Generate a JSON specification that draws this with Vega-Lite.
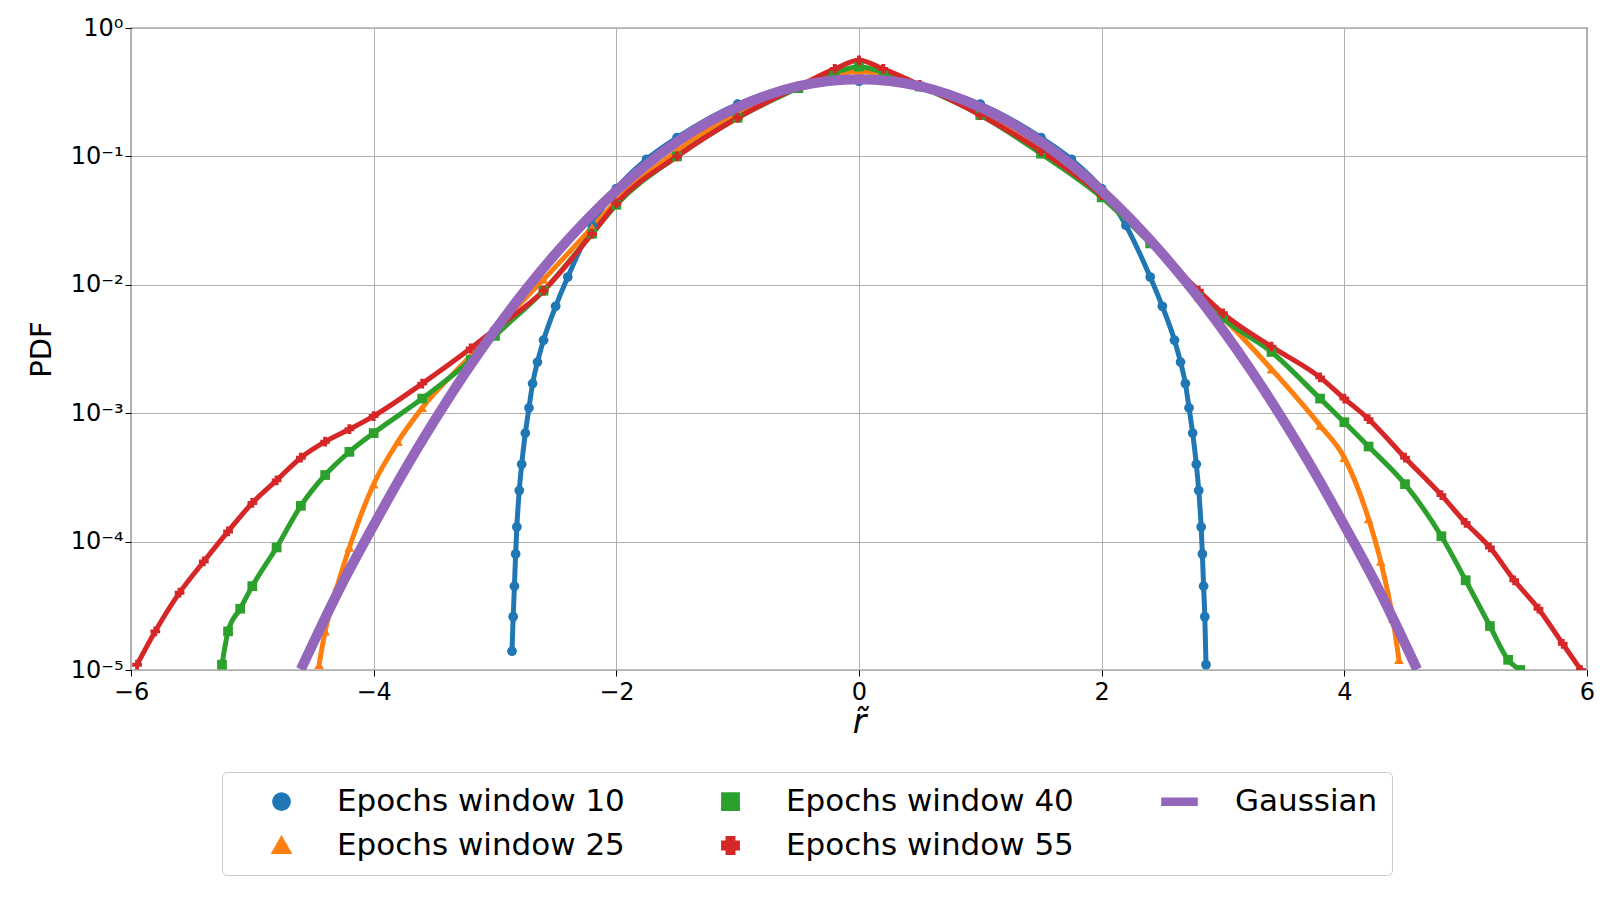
{
  "$schema": "https://vega.github.io/schema/vega-lite/v6.json",
  "autosize": "none",
  "width": 1456,
  "height": 642,
  "padding": {"left": 131, "top": 28, "right": 13, "bottom": 230},
  "background": "white",
  "config": {
    "font": "DejaVu Sans",
    "view": {"stroke": "black", "strokeWidth": 1.2},
    "axis": {"labelFontSize": 24, "titleFontSize": 29, "titleFontWeight": "normal", "labelColor": "black", "titleColor": "black", "gridColor": "#b0b0b0", "tickColor": "black", "domain": false, "tickSize": 6, "labelFlush": false}
  },
  "datasets": {
    "pts": [
      {"s": "Epochs window 10", "x": -2.86, "y": 0.000014},
      {"s": "Epochs window 10", "x": -2.85, "y": 0.000026},
      {"s": "Epochs window 10", "x": -2.84, "y": 0.000045},
      {"s": "Epochs window 10", "x": -2.83, "y": 0.00008},
      {"s": "Epochs window 10", "x": -2.82, "y": 0.00013},
      {"s": "Epochs window 10", "x": -2.8, "y": 0.00025},
      {"s": "Epochs window 10", "x": -2.78, "y": 0.0004},
      {"s": "Epochs window 10", "x": -2.75, "y": 0.0007},
      {"s": "Epochs window 10", "x": -2.72, "y": 0.0011},
      {"s": "Epochs window 10", "x": -2.69, "y": 0.0017},
      {"s": "Epochs window 10", "x": -2.65, "y": 0.0025},
      {"s": "Epochs window 10", "x": -2.6, "y": 0.0037},
      {"s": "Epochs window 10", "x": -2.5, "y": 0.0068},
      {"s": "Epochs window 10", "x": -2.4, "y": 0.0115},
      {"s": "Epochs window 10", "x": -2.2, "y": 0.029},
      {"s": "Epochs window 10", "x": -2.0, "y": 0.056},
      {"s": "Epochs window 10", "x": -1.75, "y": 0.095},
      {"s": "Epochs window 10", "x": -1.5, "y": 0.14},
      {"s": "Epochs window 10", "x": -1.0, "y": 0.255},
      {"s": "Epochs window 10", "x": -0.5, "y": 0.35},
      {"s": "Epochs window 10", "x": 0.0, "y": 0.385},
      {"s": "Epochs window 10", "x": 0.5, "y": 0.35},
      {"s": "Epochs window 10", "x": 1.0, "y": 0.255},
      {"s": "Epochs window 10", "x": 1.5, "y": 0.14},
      {"s": "Epochs window 10", "x": 1.75, "y": 0.095},
      {"s": "Epochs window 10", "x": 2.0, "y": 0.056},
      {"s": "Epochs window 10", "x": 2.2, "y": 0.029},
      {"s": "Epochs window 10", "x": 2.4, "y": 0.0115},
      {"s": "Epochs window 10", "x": 2.5, "y": 0.0068},
      {"s": "Epochs window 10", "x": 2.6, "y": 0.0037},
      {"s": "Epochs window 10", "x": 2.65, "y": 0.0025},
      {"s": "Epochs window 10", "x": 2.69, "y": 0.0017},
      {"s": "Epochs window 10", "x": 2.72, "y": 0.0011},
      {"s": "Epochs window 10", "x": 2.75, "y": 0.0007},
      {"s": "Epochs window 10", "x": 2.78, "y": 0.0004},
      {"s": "Epochs window 10", "x": 2.8, "y": 0.00025},
      {"s": "Epochs window 10", "x": 2.82, "y": 0.00013},
      {"s": "Epochs window 10", "x": 2.83, "y": 0.00008},
      {"s": "Epochs window 10", "x": 2.84, "y": 0.000045},
      {"s": "Epochs window 10", "x": 2.85, "y": 0.000026},
      {"s": "Epochs window 10", "x": 2.86, "y": 0.000011},

      {"s": "Epochs window 25", "x": -4.45, "y": 0.000011},
      {"s": "Epochs window 25", "x": -4.4, "y": 0.00002},
      {"s": "Epochs window 25", "x": -4.3, "y": 0.000045},
      {"s": "Epochs window 25", "x": -4.2, "y": 0.00009},
      {"s": "Epochs window 25", "x": -4.0, "y": 0.00028},
      {"s": "Epochs window 25", "x": -3.8, "y": 0.0006},
      {"s": "Epochs window 25", "x": -3.6, "y": 0.0011},
      {"s": "Epochs window 25", "x": -3.2, "y": 0.0028},
      {"s": "Epochs window 25", "x": -3.0, "y": 0.0045},
      {"s": "Epochs window 25", "x": -2.6, "y": 0.011},
      {"s": "Epochs window 25", "x": -2.2, "y": 0.028},
      {"s": "Epochs window 25", "x": -2.0, "y": 0.045},
      {"s": "Epochs window 25", "x": -1.5, "y": 0.11},
      {"s": "Epochs window 25", "x": -1.0, "y": 0.22},
      {"s": "Epochs window 25", "x": -0.5, "y": 0.36},
      {"s": "Epochs window 25", "x": -0.2, "y": 0.43},
      {"s": "Epochs window 25", "x": 0.0, "y": 0.46},
      {"s": "Epochs window 25", "x": 0.2, "y": 0.43},
      {"s": "Epochs window 25", "x": 0.5, "y": 0.36},
      {"s": "Epochs window 25", "x": 1.0, "y": 0.22},
      {"s": "Epochs window 25", "x": 1.5, "y": 0.115},
      {"s": "Epochs window 25", "x": 2.0, "y": 0.05},
      {"s": "Epochs window 25", "x": 2.4, "y": 0.022},
      {"s": "Epochs window 25", "x": 2.8, "y": 0.008},
      {"s": "Epochs window 25", "x": 3.0, "y": 0.0055},
      {"s": "Epochs window 25", "x": 3.4, "y": 0.0022},
      {"s": "Epochs window 25", "x": 3.8, "y": 0.0008},
      {"s": "Epochs window 25", "x": 4.0, "y": 0.00045},
      {"s": "Epochs window 25", "x": 4.2, "y": 0.00015},
      {"s": "Epochs window 25", "x": 4.3, "y": 0.00007},
      {"s": "Epochs window 25", "x": 4.4, "y": 0.000025},
      {"s": "Epochs window 25", "x": 4.45, "y": 0.000012},

      {"s": "Epochs window 40", "x": -5.25, "y": 0.000011},
      {"s": "Epochs window 40", "x": -5.2, "y": 0.00002},
      {"s": "Epochs window 40", "x": -5.1, "y": 0.00003},
      {"s": "Epochs window 40", "x": -5.0, "y": 0.000045},
      {"s": "Epochs window 40", "x": -4.8, "y": 0.00009},
      {"s": "Epochs window 40", "x": -4.6, "y": 0.00019},
      {"s": "Epochs window 40", "x": -4.4, "y": 0.00033},
      {"s": "Epochs window 40", "x": -4.2, "y": 0.0005},
      {"s": "Epochs window 40", "x": -4.0, "y": 0.0007},
      {"s": "Epochs window 40", "x": -3.6, "y": 0.0013},
      {"s": "Epochs window 40", "x": -3.2, "y": 0.0026},
      {"s": "Epochs window 40", "x": -3.0, "y": 0.004},
      {"s": "Epochs window 40", "x": -2.6, "y": 0.009},
      {"s": "Epochs window 40", "x": -2.2, "y": 0.025},
      {"s": "Epochs window 40", "x": -2.0, "y": 0.042},
      {"s": "Epochs window 40", "x": -1.5, "y": 0.1},
      {"s": "Epochs window 40", "x": -1.0, "y": 0.2},
      {"s": "Epochs window 40", "x": -0.5, "y": 0.34},
      {"s": "Epochs window 40", "x": -0.2, "y": 0.45},
      {"s": "Epochs window 40", "x": 0.0, "y": 0.5},
      {"s": "Epochs window 40", "x": 0.2, "y": 0.45},
      {"s": "Epochs window 40", "x": 0.5, "y": 0.35},
      {"s": "Epochs window 40", "x": 1.0, "y": 0.21},
      {"s": "Epochs window 40", "x": 1.5, "y": 0.105},
      {"s": "Epochs window 40", "x": 2.0, "y": 0.048},
      {"s": "Epochs window 40", "x": 2.4, "y": 0.021},
      {"s": "Epochs window 40", "x": 2.8, "y": 0.0085},
      {"s": "Epochs window 40", "x": 3.0, "y": 0.0055},
      {"s": "Epochs window 40", "x": 3.4, "y": 0.003},
      {"s": "Epochs window 40", "x": 3.8, "y": 0.0013},
      {"s": "Epochs window 40", "x": 4.0, "y": 0.00085},
      {"s": "Epochs window 40", "x": 4.2, "y": 0.00055},
      {"s": "Epochs window 40", "x": 4.5, "y": 0.00028},
      {"s": "Epochs window 40", "x": 4.8, "y": 0.00011},
      {"s": "Epochs window 40", "x": 5.0, "y": 0.00005},
      {"s": "Epochs window 40", "x": 5.2, "y": 0.000022},
      {"s": "Epochs window 40", "x": 5.35, "y": 0.000012},
      {"s": "Epochs window 40", "x": 5.45, "y": 0.00001},

      {"s": "Epochs window 55", "x": -5.95, "y": 0.000011},
      {"s": "Epochs window 55", "x": -5.8, "y": 0.00002},
      {"s": "Epochs window 55", "x": -5.6, "y": 0.00004},
      {"s": "Epochs window 55", "x": -5.4, "y": 0.00007},
      {"s": "Epochs window 55", "x": -5.2, "y": 0.00012},
      {"s": "Epochs window 55", "x": -5.0, "y": 0.0002},
      {"s": "Epochs window 55", "x": -4.8, "y": 0.0003},
      {"s": "Epochs window 55", "x": -4.6, "y": 0.00045},
      {"s": "Epochs window 55", "x": -4.4, "y": 0.0006},
      {"s": "Epochs window 55", "x": -4.2, "y": 0.00075},
      {"s": "Epochs window 55", "x": -4.0, "y": 0.00095},
      {"s": "Epochs window 55", "x": -3.6, "y": 0.0017},
      {"s": "Epochs window 55", "x": -3.2, "y": 0.0032},
      {"s": "Epochs window 55", "x": -3.0, "y": 0.0045},
      {"s": "Epochs window 55", "x": -2.6, "y": 0.009},
      {"s": "Epochs window 55", "x": -2.2, "y": 0.025},
      {"s": "Epochs window 55", "x": -2.0, "y": 0.043},
      {"s": "Epochs window 55", "x": -1.5, "y": 0.1},
      {"s": "Epochs window 55", "x": -1.0, "y": 0.2},
      {"s": "Epochs window 55", "x": -0.5, "y": 0.35},
      {"s": "Epochs window 55", "x": -0.2, "y": 0.48},
      {"s": "Epochs window 55", "x": 0.0, "y": 0.56},
      {"s": "Epochs window 55", "x": 0.2, "y": 0.48},
      {"s": "Epochs window 55", "x": 0.5, "y": 0.36},
      {"s": "Epochs window 55", "x": 1.0, "y": 0.21},
      {"s": "Epochs window 55", "x": 1.5, "y": 0.11},
      {"s": "Epochs window 55", "x": 2.0, "y": 0.05},
      {"s": "Epochs window 55", "x": 2.4, "y": 0.022},
      {"s": "Epochs window 55", "x": 2.8, "y": 0.009},
      {"s": "Epochs window 55", "x": 3.0, "y": 0.006},
      {"s": "Epochs window 55", "x": 3.4, "y": 0.0033},
      {"s": "Epochs window 55", "x": 3.8, "y": 0.0019},
      {"s": "Epochs window 55", "x": 4.0, "y": 0.0013},
      {"s": "Epochs window 55", "x": 4.2, "y": 0.0009},
      {"s": "Epochs window 55", "x": 4.5, "y": 0.00045},
      {"s": "Epochs window 55", "x": 4.8, "y": 0.00023},
      {"s": "Epochs window 55", "x": 5.0, "y": 0.00014},
      {"s": "Epochs window 55", "x": 5.2, "y": 0.00009},
      {"s": "Epochs window 55", "x": 5.4, "y": 0.00005},
      {"s": "Epochs window 55", "x": 5.6, "y": 0.00003},
      {"s": "Epochs window 55", "x": 5.8, "y": 0.000016},
      {"s": "Epochs window 55", "x": 5.95, "y": 0.00001}
    ],
    "gauss": [
      {"s": "Gaussian", "x": -4.6, "y": 0.0000101},
      {"s": "Gaussian", "x": -4.25, "y": 0.000049},
      {"s": "Gaussian", "x": -4.0, "y": 0.000134},
      {"s": "Gaussian", "x": -3.75, "y": 0.000353},
      {"s": "Gaussian", "x": -3.5, "y": 0.00087},
      {"s": "Gaussian", "x": -3.25, "y": 0.00203},
      {"s": "Gaussian", "x": -3.0, "y": 0.00443},
      {"s": "Gaussian", "x": -2.75, "y": 0.0091},
      {"s": "Gaussian", "x": -2.5, "y": 0.0175},
      {"s": "Gaussian", "x": -2.25, "y": 0.0317},
      {"s": "Gaussian", "x": -2.0, "y": 0.054},
      {"s": "Gaussian", "x": -1.75, "y": 0.0863},
      {"s": "Gaussian", "x": -1.5, "y": 0.1295},
      {"s": "Gaussian", "x": -1.25, "y": 0.183},
      {"s": "Gaussian", "x": -1.0, "y": 0.242},
      {"s": "Gaussian", "x": -0.75, "y": 0.301},
      {"s": "Gaussian", "x": -0.5, "y": 0.352},
      {"s": "Gaussian", "x": -0.25, "y": 0.387},
      {"s": "Gaussian", "x": 0.0, "y": 0.399},
      {"s": "Gaussian", "x": 0.25, "y": 0.387},
      {"s": "Gaussian", "x": 0.5, "y": 0.352},
      {"s": "Gaussian", "x": 0.75, "y": 0.301},
      {"s": "Gaussian", "x": 1.0, "y": 0.242},
      {"s": "Gaussian", "x": 1.25, "y": 0.183},
      {"s": "Gaussian", "x": 1.5, "y": 0.1295},
      {"s": "Gaussian", "x": 1.75, "y": 0.0863},
      {"s": "Gaussian", "x": 2.0, "y": 0.054},
      {"s": "Gaussian", "x": 2.25, "y": 0.0317},
      {"s": "Gaussian", "x": 2.5, "y": 0.0175},
      {"s": "Gaussian", "x": 2.75, "y": 0.0091},
      {"s": "Gaussian", "x": 3.0, "y": 0.00443},
      {"s": "Gaussian", "x": 3.25, "y": 0.00203},
      {"s": "Gaussian", "x": 3.5, "y": 0.00087},
      {"s": "Gaussian", "x": 3.75, "y": 0.000353},
      {"s": "Gaussian", "x": 4.0, "y": 0.000134},
      {"s": "Gaussian", "x": 4.25, "y": 0.000049},
      {"s": "Gaussian", "x": 4.6, "y": 0.0000101}
    ]
  },
  "encoding": {
    "x": {"field": "x", "type": "quantitative", "scale": {"domain": [-6, 6], "nice": false},
      "axis": {"values": [-6, -4, -2, 0, 2, 4, 6], "title": "r̃", "titleFontStyle": "italic", "titleFontSize": 33, "titlePadding": 2, "labelPadding": 4}},
    "y": {"field": "y", "type": "quantitative", "scale": {"type": "log", "domain": [0.00001, 1], "nice": false},
      "axis": {"values": [0.00001, 0.0001, 0.001, 0.01, 0.1, 1], "title": "PDF", "titlePadding": 14,
        "labelExpr": "datum.value >= 0.5 ? '10⁰' : datum.value >= 0.05 ? '10⁻¹' : datum.value >= 0.005 ? '10⁻²' : datum.value >= 0.0005 ? '10⁻³' : datum.value >= 0.00005 ? '10⁻⁴' : '10⁻⁵'"}},
    "color": {"field": "s", "type": "nominal",
      "scale": {"domain": ["Epochs window 10", "Epochs window 25", "Epochs window 40", "Epochs window 55", "Gaussian"],
        "range": ["#1f77b4", "#ff7f0e", "#2ca02c", "#d62728", "#9467bd"]},
      "legend": {"orient": "none", "legendX": 91, "legendY": 744, "columns": 3, "title": null,
        "labelFontSize": 31, "labelColor": "black", "labelLimit": 600, "symbolSize": 220, "symbolStrokeWidth": 4,
        "columnPadding": 60, "rowPadding": 12, "padding": 14, "strokeColor": "#cccccc", "cornerRadius": 5,
        "labelOffset": 40, "symbolOffset": 30}},
    "shape": {"field": "s", "type": "nominal",
      "scale": {"domain": ["Epochs window 10", "Epochs window 25", "Epochs window 40", "Epochs window 55", "Gaussian"],
        "range": ["circle", "triangle-up", "square", "cross", "M-2.2,-0.3H2.2V0.3H-2.2Z"]}}
  },
  "layer": [
    {"data": {"name": "pts"}, "mark": {"type": "line", "strokeWidth": 5, "clip": true, "interpolate": "monotone"},
      "encoding": {"shape": null}},
    {"data": {"name": "pts"}, "mark": {"type": "point", "filled": true, "size": 95, "opacity": 1, "clip": true}},
    {"data": {"name": "gauss"}, "mark": {"type": "line", "strokeWidth": 10, "clip": true, "interpolate": "monotone"},
      "encoding": {"shape": null}}
  ]
}
